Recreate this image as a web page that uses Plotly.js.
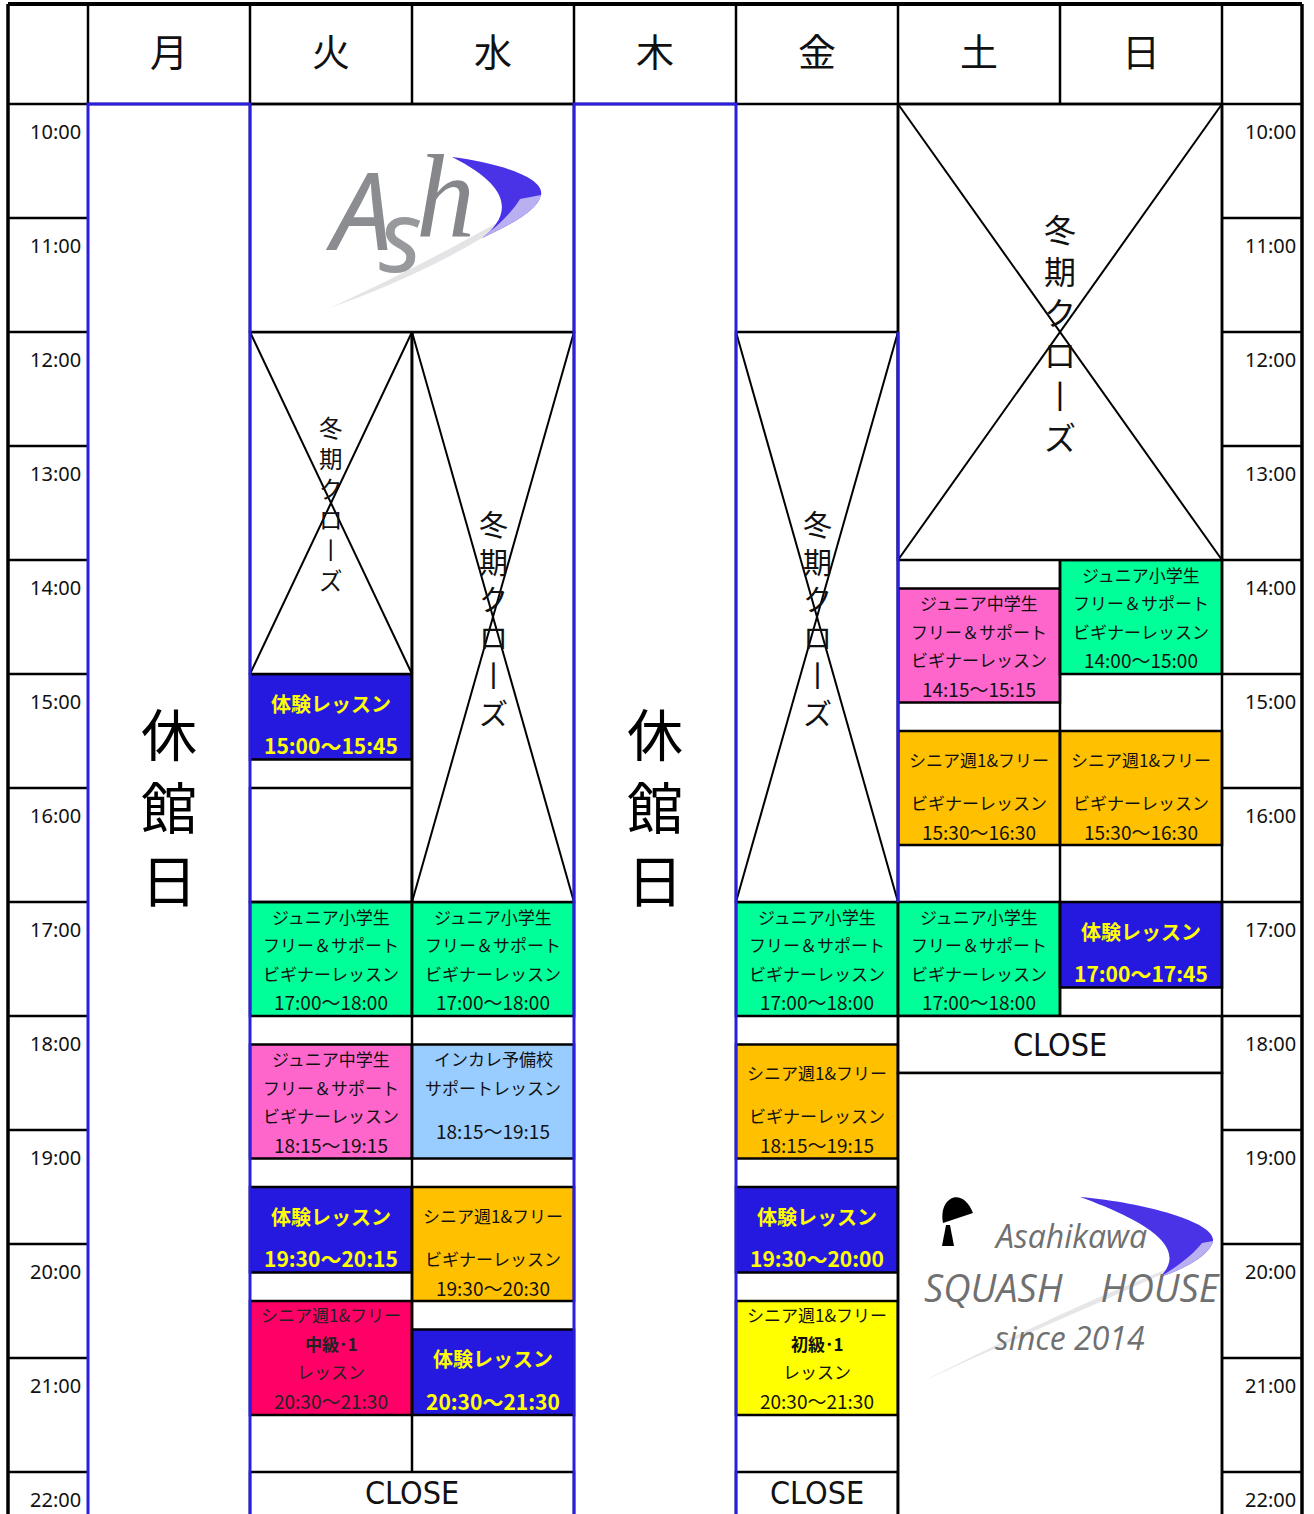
<!DOCTYPE html>
<html><head><meta charset="utf-8">
<script src="https://cdn.plot.ly/plotly-3.0.1.min.js"></script>
<style>html,body{margin:0;padding:0;background:#fff}#chart{width:1314px;height:1514px}</style>
</head><body><div id="chart"></div>
<script>
// ---------------- DATA ----------------
const days = ['月','火','水','木','金','土','日'];
const hourTicks  = [10,11,12,13,14,15,16,17,18,19,20,21,22];
const hourLabels = ['10:00','11:00','12:00','13:00','14:00','15:00','16:00','17:00','18:00','19:00','20:00','21:00','22:00'];

// lessons (day index 0=月 … 6=日, times in hours)
const lessonDay   = [1,1,1,1,1, 2,2,2,2, 4,4,4,4, 5,5,5, 6,6,6];
const lessonStart = [15,17,18.25,19.5,20.5, 17,18.25,19.5,20.75, 17,18.25,19.5,20.5, 14.25,15.5,17, 14,15.5,17];
const lessonEnd   = [15.75,18,19.25,20.25,21.5, 18,19.25,20.5,21.5, 18,19.25,20.25,21.5, 15.25,16.5,18, 15,16.5,17.75];
const lessonKind  = ['trial','junior','juniorMid','trial','seniorMid',
                     'junior','incolle','senior','trial',
                     'junior','senior','trial','seniorBeg',
                     'juniorMid','senior','junior',
                     'junior','senior','trial'];
const lessonTime  = ['15:00～15:45','17:00～18:00','18:15～19:15','19:30～20:15','20:30～21:30',
                     '17:00～18:00','18:15～19:15','19:30～20:30','20:30～21:30',
                     '17:00～18:00','18:15～19:15','19:30～20:00','20:30～21:30',
                     '14:15～15:15','15:30～16:30','17:00～18:00',
                     '14:00～15:00','15:30～16:30','17:00～17:45'];
const juniorLines    = ['ジュニア小学生','フリー＆サポート','ビギナーレッスン'];
const juniorMidLines = ['ジュニア中学生','フリー＆サポート','ビギナーレッスン'];
const trialLines     = ['体験レッスン'];
const seniorLines    = ['シニア週1&フリー','ビギナーレッスン'];
const seniorMidLines = ['シニア週1&フリー','中級･1','レッスン'];
const seniorBegLines = ['シニア週1&フリー','初級･1','レッスン'];
const incolleLines   = ['インカレ予備校','サポートレッスン'];

// closed days
const closedDays  = [0,3];
const closedLabel = ['休','館','日'];
// winter-closed blocks
const winterDay0  = [1,2,4,5];
const winterDay1  = [2,3,5,7];
const winterStart = [12,12,12,10];
const winterEnd   = [15,17,17,14];
const winterLabel = ['冬','期','ク','ロ','丨','ズ'];
// CLOSE blocks
const closeDay0  = [1,4,5];
const closeDay1  = [3,5,7];
const closeStart = [22,22,18];
const closeEnd   = [24,24,18.5];
const closeLabel = 'CLOSE';
// logo blocks
const logoDay0  = [1,5];
const logoDay1  = [3,7];
const logoStart = [10,18.5];
const logoEnd   = [12,24];
const logo1Letters = ['A','s','h'];
const logo2Lines = ['Asahikawa','SQUASH　HOUSE','since 2014'];
// empty framed cell
const blankDay = [1], blankStart = [16], blankEnd = [17];

// ---------------- STYLE ----------------
const JP = '"Noto Sans CJK JP","Noto Sans",sans-serif';
const PXX = 162, PXY = 114;          // pixels per day column / per hour
const TW = 80/PXX;                   // time column width in day units
const yHead = 10 - 100/PXY;          // top of header
const xMin = -88/PXX, xMax = (1314-88)/PXX;
const yTop = 10 - 104/PXY, yBot = 10 + (1514-104)/PXY;
const BLUE = '#2A1EE0';
const kindStyle = {
  junior:    {fill:'#00FF99', lines:juniorLines,    offs:[14,42.5,71,99.5], sizes:[17,17,17,19], color:'#111', bold:[]},
  juniorMid: {fill:'#FF66CC', lines:juniorMidLines, offs:[14,42.5,71,99.5], sizes:[17,17,17,19], color:'#111', bold:[]},
  trial:     {fill:'#2619DF', lines:trialLines,     offs:[29,71],           sizes:[20,21],       color:'#FFFF00', bold:[0,1]},
  senior:    {fill:'#FFC000', lines:seniorLines,    offs:[28,71,100],       sizes:[17,17,19],    color:'#111', bold:[]},
  seniorMid: {fill:'#FF0066', lines:seniorMidLines, offs:[13,42,70,99],     sizes:[17,17,17,19], color:'#222', bold:[1]},
  seniorBeg: {fill:'#FFFF00', lines:seniorBegLines, offs:[13,42,70,99],     sizes:[17,17,17,19], color:'#111', bold:[1]},
  incolle:   {fill:'#99CCFF', lines:incolleLines,   offs:[14,43,86],        sizes:[17,17,19],    color:'#111', bold:[]}
};
const winterFont = [23.5, 29, 29, 32];

const shapes = [], ann = [];
function line(x0,y0,x1,y1,color,w){shapes.push({type:'line',xref:'x',yref:'y',x0,y0,x1,y1,line:{color,width:w}});}
function rect(x0,x1,y0,y1,fill,color,w){shapes.push({type:'rect',xref:'x',yref:'y',x0,x1,y0,y1,fillcolor:fill,line:{color,width:w}});}
function txt(x,y,text,font,extra){ann.push(Object.assign({x,y,xref:'x',yref:'y',text,showarrow:false,xanchor:'center',yanchor:'middle',font},extra||{}));}

// ---------------- lessons (bars) ----------------
const lessonTrace = {
  type:'bar', x: lessonDay.map(d=>d+0.5), base: lessonStart,
  y: lessonStart.map((s,i)=>lessonEnd[i]-s), width: 1,
  marker:{color: lessonKind.map(k=>kindStyle[k].fill), line:{color:'#000',width:2.5}},
  hoverinfo:'text', hovertext: lessonKind.map((k,i)=>days[lessonDay[i]]+' '+lessonTime[i]),
  showlegend:false
};
lessonKind.forEach((k,i)=>{
  const st = kindStyle[k];
  const lines = st.lines.concat([lessonTime[i]]);
  lines.forEach((t,j)=>{
    txt(lessonDay[i]+0.5, lessonStart[i], t,
        {family:JP,size:st.sizes[j],color:st.color,weight:st.bold.includes(j)?'bold':'normal'},
        {yshift:-st.offs[j]});
  });
});

// ---------------- structural blocks ----------------
blankDay.forEach((d,i)=>rect(d,d+1,blankStart[i],blankEnd[i],'rgba(0,0,0,0)','#000',2.5));
winterDay0.forEach((d0,i)=>{
  const d1 = winterDay1[i], s = winterStart[i], e = winterEnd[i];
  rect(d0,d1,s,e,'#fff','#000',2.5);
  line(d0,s,d1,e,'#000',2);
  line(d1,s,d0,e,'#000',2);
  txt((d0+d1)/2,(s+e)/2,winterLabel.join('<br>'),{family:JP,size:winterFont[i],color:'#111'});
});
closeDay0.forEach((d0,i)=>{
  rect(d0,closeDay1[i],closeStart[i],closeEnd[i],'#fff','#000',2.5);
  txt((d0+closeDay1[i])/2,(closeStart[i]+Math.min(closeEnd[i],yBot))/2,closeLabel,
      {family:'"Liberation Sans Narrow","DejaVu Sans Condensed","Noto Sans",sans-serif',size:32,color:'#111'});
});
logoDay0.forEach((d0,i)=>rect(d0,logoDay1[i],logoStart[i],logoEnd[i],'#fff','#000',2.5));

// column separators (black)
line(2,12,2,22,'#000',2.5);
line(5,10,5,24,'#000',2.5);
line(6,14,6,18,'#000',2.5);
line(7,10,7,24,'#000',2.5);

// time columns: hour lines + labels
hourTicks.forEach((h,i)=>{
  if(i>0){ line(-TW,h,0,h,'#000',2.5); line(7,h,7+TW,h,'#000',2.5); }
  const f = {family:'"Noto Sans",sans-serif',size:20,color:'#111'};
  txt(0,h,hourLabels[i],f,{xanchor:'right',xshift:-5,yshift:-27});
  txt(7+TW,h,hourLabels[i],f,{xanchor:'right',xshift:-4,yshift:-27});
});

// header
line(-TW,10,7+TW,10,'#000',2.5);
for(let d=0; d<=7; d++) line(d,yHead,d,10,'#000',2.5);
days.forEach((d,i)=>txt(i+0.5,(yHead+10)/2,d,{family:JP,size:38,color:'#111'},{yshift:5}));

// closed days (blue frame)
closedDays.forEach(d=>{
  rect(d,d+1,10,24,'rgba(0,0,0,0)',BLUE,3);
  txt(d+0.5,(10+yBot)/2,closedLabel.join('<br>'),{family:JP,size:56,color:'#000'},{yshift:5});
});
line(5,12,5,17,BLUE,3);

// outer frame
line(-TW,yHead,-TW,24,'#000',3.5);
line(7+TW,yHead,7+TW,24,'#000',3.5);
line(-TW,yHead,7+TW,yHead,'#000',4);

// ---------------- logos (decoration, relative to their blocks) ----------------
function P(i,dx,dy){ return (logoDay0[i]+dx/PXX).toFixed(4)+','+(logoStart[i]+dy/PXY).toFixed(4); }
function path(i,cmds,fill){
  const s = cmds.map(c=>c[0]+' '+c.slice(1).map(p=>P(i,p[0],p[1])).join(' ')).join(' ');
  shapes.push({type:'path',xref:'x',yref:'y',path:s,fillcolor:fill,line:{width:0}});
}
// logo 1 : Ash
path(0,[['M',[232,134]],['C',[180,165],[125,188],[80,204]],['C',[140,176],[200,146],[262,110]],['Z']],'#e4e4e6');
path(0,[['M',[202,53]],['C',[250,59],[295,74],[291,91]],['C',[288,106],[262,120],[232,134]],['C',[258,114],[268,86],[202,53]],['Z']],'#4a32e6');
path(0,[['M',[291,91]],['C',[288,106],[262,120],[232,134]],['C',[250,120],[262,108],[270,95]],['Z']],'#b9b0f2');
const ashStyle = [
  {dx:109,dy:104,font:{family:'"Noto Sans",sans-serif',size:108,color:'#8b8d91',style:'italic'}},
  {dx:150,dy:129,font:{family:'"Noto Sans",sans-serif',size:100,color:'#97999c',style:'italic'}},
  {dx:195,dy:92, font:{family:'"Liberation Serif",serif',size:118,color:'#85878b',style:'italic'}}
];
logo1Letters.forEach((c,k)=>txt(logoDay0[0]+ashStyle[k].dx/PXX, logoStart[0]+ashStyle[k].dy/PXY, c, ashStyle[k].font));
// logo 2 : Asahikawa SQUASH HOUSE
path(1,[['M',[262,202]],['C',[190,235],[95,275],[24,309]],['C',[100,270],[200,222],[285,190]],['Z']],'#e6e6e8');
path(1,[['M',[182,124]],['C',[250,130],[318,150],[315,168]],['C',[312,182],[287,196],[262,204]],['C',[280,186],[282,160],[182,124]],['Z']],'#4a32e6');
path(1,[['M',[315,168]],['C',[312,182],[287,196],[262,204]],['C',[285,190],[298,178],[304,170]],['Z']],'#b9b0f2');
path(1,[['M',[45,150]],['C',[40,125],[64,112],[75,140]],['Z']],'#000');
path(1,[['M',[44,173]],['L',[48,152]],['L',[52,152]],['L',[56,173]],['Z']],'#000');
const l2Font = {family:'"Open Sans","Noto Sans",sans-serif',color:'#707070',style:'italic'};
[[162,32,10],[214,38,12],[264,32,10]].forEach((p,k)=>{
  txt((logoDay0[1]+logoDay1[1])/2, logoStart[1]+p[0]/PXY, logo2Lines[k], Object.assign({},l2Font,{size:p[1]}),{xshift:p[2]});
});

// ---------------- layout ----------------
const layout = {
  width:1314, height:1514, margin:{l:0,r:0,t:0,b:0},
  paper_bgcolor:'#fff', plot_bgcolor:'#fff', showlegend:false, barmode:'overlay',
  xaxis:{range:[xMin,xMax],visible:false,fixedrange:true},
  yaxis:{range:[yBot,yTop],visible:false,fixedrange:true},
  shapes, annotations: ann
};
Plotly.newPlot('chart',[lessonTrace],layout,{displayModeBar:false,staticPlot:true});
</script></body></html>
